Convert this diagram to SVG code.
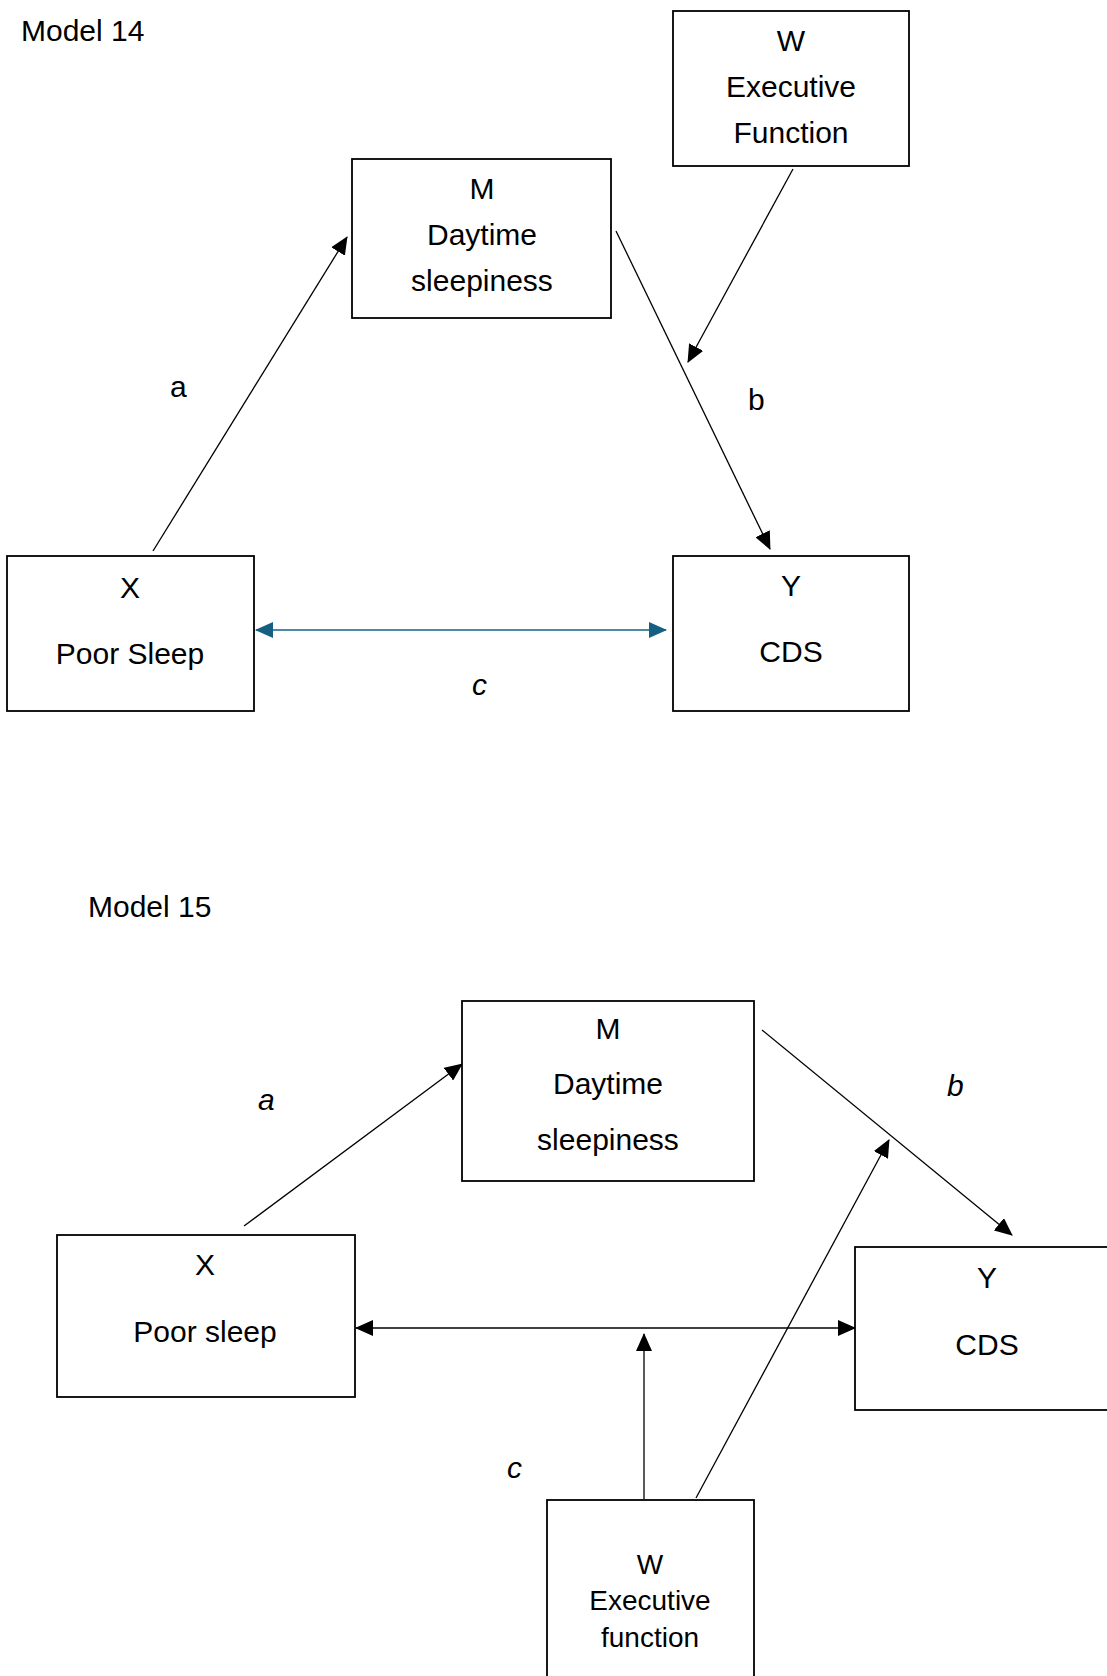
<svg xmlns="http://www.w3.org/2000/svg" width="1107" height="1676" viewBox="0 0 1107 1676">
<style>
.box{fill:#fff;stroke:#000;stroke-width:1.8}
.t{font-family:"Liberation Sans",Arial,sans-serif;font-size:30px;fill:#000;text-anchor:middle}
.ts{font-family:"Liberation Sans",Arial,sans-serif;font-size:28px;fill:#000;text-anchor:middle}
.lbl{font-family:"Liberation Sans",Arial,sans-serif;font-size:30px;fill:#000}
.it{font-style:italic}
.ln{stroke:#000;stroke-width:1.3;fill:none}
.teal{stroke:#156082;stroke-width:1.5;fill:none}
</style>
<defs>
<marker id="ah" markerUnits="userSpaceOnUse" markerWidth="18" markerHeight="16" refX="17" refY="8" orient="auto-start-reverse" viewBox="0 0 18 16">
<path d="M0,0 L18,8 L0,16 Z" fill="#000"/>
</marker>
<marker id="aht" markerUnits="userSpaceOnUse" markerWidth="18" markerHeight="16" refX="17" refY="8" orient="auto-start-reverse" viewBox="0 0 18 16">
<path d="M0,0 L18,8 L0,16 Z" fill="#156082"/>
</marker>
</defs>
<rect width="1107" height="1676" fill="#fff"/>

<g id="title14"><text class="lbl" x="21" y="41">Model 14</text></g>
<g id="title15"><text class="lbl" x="88" y="917">Model 15</text></g>

<g id="connectors">
<line class="ln" x1="153" y1="551" x2="347" y2="237" marker-end="url(#ah)"/>
<line class="ln" x1="616" y1="231" x2="770" y2="549" marker-end="url(#ah)"/>
<line class="ln" x1="793" y1="169" x2="688" y2="362" marker-end="url(#ah)"/>
<line class="teal" x1="256" y1="630" x2="666" y2="630" marker-start="url(#aht)" marker-end="url(#aht)"/>

<line class="ln" x1="244" y1="1226" x2="462" y2="1064" marker-end="url(#ah)"/>
<line class="ln" x1="762" y1="1030" x2="1012" y2="1235" marker-end="url(#ah)"/>
<line class="ln" x1="356" y1="1328" x2="855" y2="1328" marker-start="url(#ah)" marker-end="url(#ah)"/>
<line class="ln" x1="644" y1="1499" x2="644" y2="1334" marker-end="url(#ah)"/>
<line class="ln" x1="696" y1="1498" x2="889" y2="1140" marker-end="url(#ah)"/>
</g>

<g id="labels">
<text class="lbl" x="170" y="397">a</text>
<text class="lbl" x="748" y="410">b</text>
<text class="lbl it" x="472" y="695">c</text>
<text class="lbl it" x="258" y="1110">a</text>
<text class="lbl it" x="947" y="1096">b</text>
<text class="lbl it" x="507" y="1478">c</text>
</g>

<g id="W14">
<rect class="box" x="673" y="11" width="236" height="155"/>
<text class="t" x="791" y="51">W</text>
<text class="t" x="791" y="97">Executive</text>
<text class="t" x="791" y="143">Function</text>
</g>
<g id="M14">
<rect class="box" x="352" y="159" width="259" height="159"/>
<text class="t" x="482" y="199">M</text>
<text class="t" x="482" y="245">Daytime</text>
<text class="t" x="482" y="291">sleepiness</text>
</g>
<g id="X14">
<rect class="box" x="7" y="556" width="247" height="155"/>
<text class="t" x="130" y="598">X</text>
<text class="t" x="130" y="664">Poor Sleep</text>
</g>
<g id="Y14">
<rect class="box" x="673" y="556" width="236" height="155"/>
<text class="t" x="791" y="596">Y</text>
<text class="t" x="791" y="662">CDS</text>
</g>

<g id="M15">
<rect class="box" x="462" y="1001" width="292" height="180"/>
<text class="t" x="608" y="1039">M</text>
<text class="t" x="608" y="1094">Daytime</text>
<text class="t" x="608" y="1150">sleepiness</text>
</g>
<g id="X15">
<rect class="box" x="57" y="1235" width="298" height="162"/>
<text class="t" x="205" y="1275">X</text>
<text class="t" x="205" y="1342">Poor sleep</text>
</g>
<g id="Y15">
<rect class="box" x="855" y="1247" width="260" height="163"/>
<text class="t" x="987" y="1288">Y</text>
<text class="t" x="987" y="1355">CDS</text>
</g>
<g id="W15">
<rect class="box" x="547" y="1500" width="207" height="190"/>
<text class="ts" x="650" y="1574">W</text>
<text class="ts" x="650" y="1610">Executive</text>
<text class="ts" x="650" y="1647">function</text>
</g>
</svg>
